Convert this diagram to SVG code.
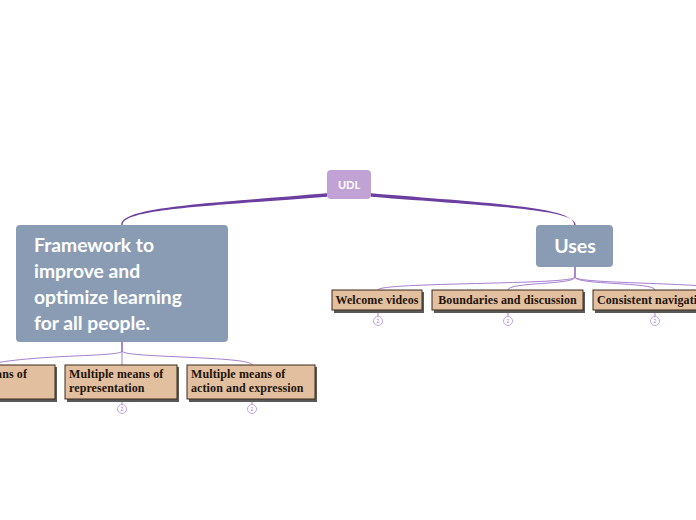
<svg xmlns="http://www.w3.org/2000/svg" width="696" height="520" viewBox="0 0 696 520">
<defs>
<style>
.main{fill:#8a9cb4;}
.mtxt{font-family:Lato,"Open Sans",sans-serif;font-weight:bold;fill:#ffffff;}
.leaf{fill:#e2bf9f;stroke:#3b2a1c;stroke-width:1;}
.shadow{fill:#5a5a5a;}
.ltxt{font-family:"Liberation Serif","DejaVu Serif",serif;font-weight:bold;font-size:12px;letter-spacing:0.1px;fill:#1e140c;}
.thin{fill:none;stroke:#a57fcf;stroke-width:1;}
.stem{fill:none;stroke:#8a5cc0;stroke-width:1.5;}
.cnt{fill:#ffffff;stroke:#b28ee0;stroke-width:0.8;}
.ctxt{font-family:"Liberation Sans",sans-serif;font-size:5px;fill:#a080d0;}
</style>
</defs>
<rect width="696" height="520" fill="#ffffff"/>
<g id="connectors">
<path d="M327,193.3 C200,204 121.3,207.5 121.3,225 L122.7,225 C122.7,209.5 200,206.8 327,196.7 Z" fill="#6b3ea0"/>
<path d="M371,193.3 C500,204 574.3,207.5 574.3,225 L575.7,225 C575.7,209.5 500,206.8 371,196.7 Z" fill="#6b3ea0"/>
<path class="stem" d="M122,342 L122,352"/>
<path class="thin" d="M122,352 L122,365"/>
<path class="thin" d="M122,351 C122,357 40,354 -10,364"/>
<path class="thin" d="M122,351 C122,358 252,356 252,365"/>
<path class="stem" d="M575,267 L575,278"/>
<path class="thin" d="M575,277 C575,285 378,282 378,290"/>
<path class="thin" d="M575,277 C575,285 508,282 508,290"/>
<path class="thin" d="M575,277 C575,285 655,282 655,290"/>
<path class="thin" d="M575,277 C575,284 700,282 740,290"/>
<path class="thin" d="M122,399 L122,404.5"/>
<path class="thin" d="M252,399 L252,404.5"/>
<path class="thin" d="M378,310 L378,316.5"/>
<path class="thin" d="M508,310 L508,316.5"/>
<path class="thin" d="M655,310 L655,316.5"/>
</g>
<g id="udl">
<rect x="327" y="170" width="44" height="29" rx="4" fill="#c0a3d4"/>
<text x="349" y="189" text-anchor="middle" font-family="Lato,'Open Sans',sans-serif" font-weight="bold" font-size="11" fill="#ffffff">UDL</text>
</g>
<g id="framework">
<rect class="main" x="16" y="225" width="212" height="117" rx="4"/>
<text class="mtxt" font-size="19.3"><tspan x="34" y="251.5">Framework to</tspan><tspan x="34" y="277.5">improve and</tspan><tspan x="34" y="303.5">optimize learning</tspan><tspan x="34" y="329.5">for all people.</tspan></text>
</g>
<g id="uses">
<rect class="main" x="536" y="225" width="77" height="42" rx="4"/>
<text class="mtxt" font-size="19.5" x="575" y="252.5" text-anchor="middle">Uses</text>
</g>
<g id="mm-engagement">
<rect class="shadow" x="-58" y="367" width="115" height="35"/>
<rect class="leaf" x="-60" y="365" width="115" height="34"/>
<text class="ltxt" x="27" y="378" text-anchor="end">Multiple means of</text>
</g>
<g id="mm-representation">
<rect class="shadow" x="67" y="367" width="112" height="35"/>
<rect class="leaf" x="65" y="365" width="112" height="34"/>
<text class="ltxt"><tspan x="69" y="378">Multiple means of</tspan><tspan x="69" y="392">representation</tspan></text>
<circle class="cnt" cx="122" cy="409" r="4.5"/>
<text class="ctxt" x="122" y="410.8" text-anchor="middle">2</text>
</g>
<g id="mm-action">
<rect class="shadow" x="189" y="367" width="128" height="35"/>
<rect class="leaf" x="187" y="365" width="128" height="34"/>
<text class="ltxt"><tspan x="191" y="378">Multiple means of</tspan><tspan x="191" y="392">action and expression</tspan></text>
<circle class="cnt" cx="252" cy="409" r="4.5"/>
<text class="ctxt" x="252" y="410.8" text-anchor="middle">2</text>
</g>
<g id="welcome">
<rect class="shadow" x="334" y="292" width="90" height="21"/>
<rect class="leaf" x="332" y="290" width="90" height="20"/>
<text class="ltxt" x="377" y="304" text-anchor="middle">Welcome videos</text>
<circle class="cnt" cx="378" cy="321" r="4.5"/>
<text class="ctxt" x="378" y="322.8" text-anchor="middle">2</text>
</g>
<g id="boundaries">
<rect class="shadow" x="434" y="292" width="151" height="21"/>
<rect class="leaf" x="432" y="290" width="151" height="20"/>
<text class="ltxt" x="507.5" y="304" text-anchor="middle">Boundaries and discussion</text>
<circle class="cnt" cx="508" cy="321" r="4.5"/>
<text class="ctxt" x="508" y="322.8" text-anchor="middle">2</text>
</g>
<g id="consistent">
<rect class="shadow" x="595" y="292" width="130" height="21"/>
<rect class="leaf" x="593" y="290" width="130" height="20"/>
<text class="ltxt" x="597" y="304">Consistent navigation</text>
<circle class="cnt" cx="655" cy="321" r="4.5"/>
<text class="ctxt" x="655" y="322.8" text-anchor="middle">2</text>
</g>
</svg>
